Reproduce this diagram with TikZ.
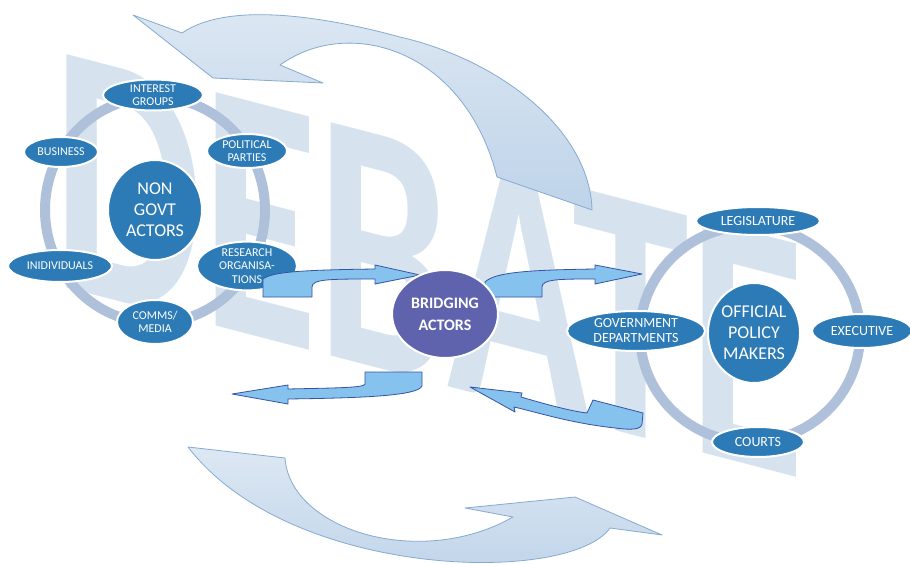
\documentclass[tikz,border=0pt]{standalone}
\usepackage{fontspec}
\setmainfont{Carlito}
\usepackage{tikz}
\usetikzlibrary{shapes.geometric}
\definecolor{wmc}{HTML}{D6E3EF}
\definecolor{ringc}{HTML}{AFC1DA}
\definecolor{actorc}{HTML}{2C7BB6}
\definecolor{bridgec}{HTML}{5F63AE}
\definecolor{blkc}{HTML}{86C2EE}
\definecolor{blkline}{HTML}{3553A5}
\definecolor{swirltop}{HTML}{DDE8F3}
\definecolor{swirlbot}{HTML}{BED3E9}
\definecolor{swirlline}{HTML}{86AAD0}

\begin{document}
\begin{tikzpicture} [x=1pt, y=-1pt,
  ring/.style={draw=ringc, line width=10pt},
  actor/.style={ellipse, fill=actorc, draw=white, line width=2pt, text=white, align=center, inner sep=0pt},
  small/.style={actor, font=\fontsize{12}{13.3}\selectfont},
  mid/.style={actor, font=\fontsize{14}{15}\selectfont},
  big/.style={actor, font=\fontsize{18}{21}\selectfont},
  blk/.style={fill=blkc, draw=blkline, line width=.8pt, line join=round},
  swirl/.style={top color=swirltop, bottom color=swirlbot, draw=swirlline, line width=.8pt, line join=round}]
\useasboundingbox (0,0) rectangle (910,564);

\node[text=wmc, inner sep=0pt, font=\fontsize{100}{100}\selectfont\bfseries, yslant=-0.26, xscale=2.36, yscale=3.6] (debate) at (429,265) {DEBATE};

\draw[swirl] (133,15) -- (213,78) -- (323,83) -- (280,65) .. controls (350,15) and (465,50) .. (497,177) -- (592,210)
  .. controls (590,130) and (500,60) .. (400,37) .. controls (330,18) and (230,0) .. (182,33) -- cycle;
\draw[swirl] (188,447) -- (285,458) .. controls (290,530) and (420,570) .. (513,517) -- (465,508) -- (575,497) -- (662,535)
  -- (610,528) .. controls (570,585) and (290,580) .. (188,447) -- cycle;

\node[big, minimum width=94pt, minimum height=100pt] (ngo) at (155,210) {NON\\GOVT\\ACTORS};
\draw[ring] (ngo.center) ellipse (110 and 113);
\node[small, minimum width=100pt, minimum height=31pt] (interest) at (153,95) {INTEREST\\GROUPS};
\node[small, minimum width=80pt, minimum height=34pt] (parties) at (247,151) {POLITICAL\\PARTIES};
\node[small, minimum width=74pt, minimum height=30pt] (business) at (61,152) {BUSINESS};
\node[small, minimum width=100pt, minimum height=46pt] (research) at (247,266) {RESEARCH\\ORGANISA-\\TIONS};
\node[small, minimum width=104pt, minimum height=32pt] (indiv) at (60,266) {INIDIVIDUALS};
\node[small, minimum width=76pt, minimum height=44pt] (media) at (155,322) {COMMS/\\MEDIA};

\node[big, minimum width=92pt, minimum height=100pt] (opm) at (754,333) {OFFICIAL\\POLICY\\MAKERS};
\draw[ring] (750,334) ellipse (110 and 108);
\node[mid, minimum width=124pt, minimum height=28pt] (legis) at (758,221) {LEGISLATURE};
\node[mid, minimum width=100pt, minimum height=34pt] (exec) at (862,331) {EXECUTIVE};
\node[mid, minimum width=138pt, minimum height=40pt] (depts) at (636,331) {GOVERNMENT\\DEPARTMENTS};
\node[mid, minimum width=92pt, minimum height=30pt] (courts) at (758,442) {COURTS};

\draw[blk] (263,297) -- (263,279) .. controls (272,272) and (300,270) .. (375,269) -- (375,265) -- (420,275) -- (375,284)
  -- (375,279) .. controls (330,279) and (312,279) .. (312,287) -- (312,297) -- cycle;
\draw[blk] (485,297) -- (485,282) .. controls (495,272) and (530,270) .. (595,269) -- (595,265) -- (642,274) -- (595,284)
  -- (595,279) .. controls (560,279) and (542,279) .. (542,287) -- (542,297) -- cycle;
\draw[blk] (365,372) -- (422,372) -- (422,386) .. controls (418,396) and (360,398) .. (288,399) -- (288,404) -- (232,394)
  -- (288,385) -- (288,389) .. controls (330,388) and (365,388) .. (365,384) -- cycle;
\draw[blk] (470,387) -- (522,393) -- (521,397) .. controls (545,404) and (570,411) .. (587,413) -- (593,400) -- (643,413)
  -- (642,424) .. controls (641,430) and (630,430) .. (615,428) .. controls (570,423) and (540,413) .. (514,407) -- (515,412) -- cycle;

\node[actor, fill=bridgec, minimum width=106pt, minimum height=88pt, font=\fontsize{16}{22}\selectfont\bfseries] (bridge) at (445,314) {BRIDGING\\ACTORS};

\end{tikzpicture}
\end{document}
